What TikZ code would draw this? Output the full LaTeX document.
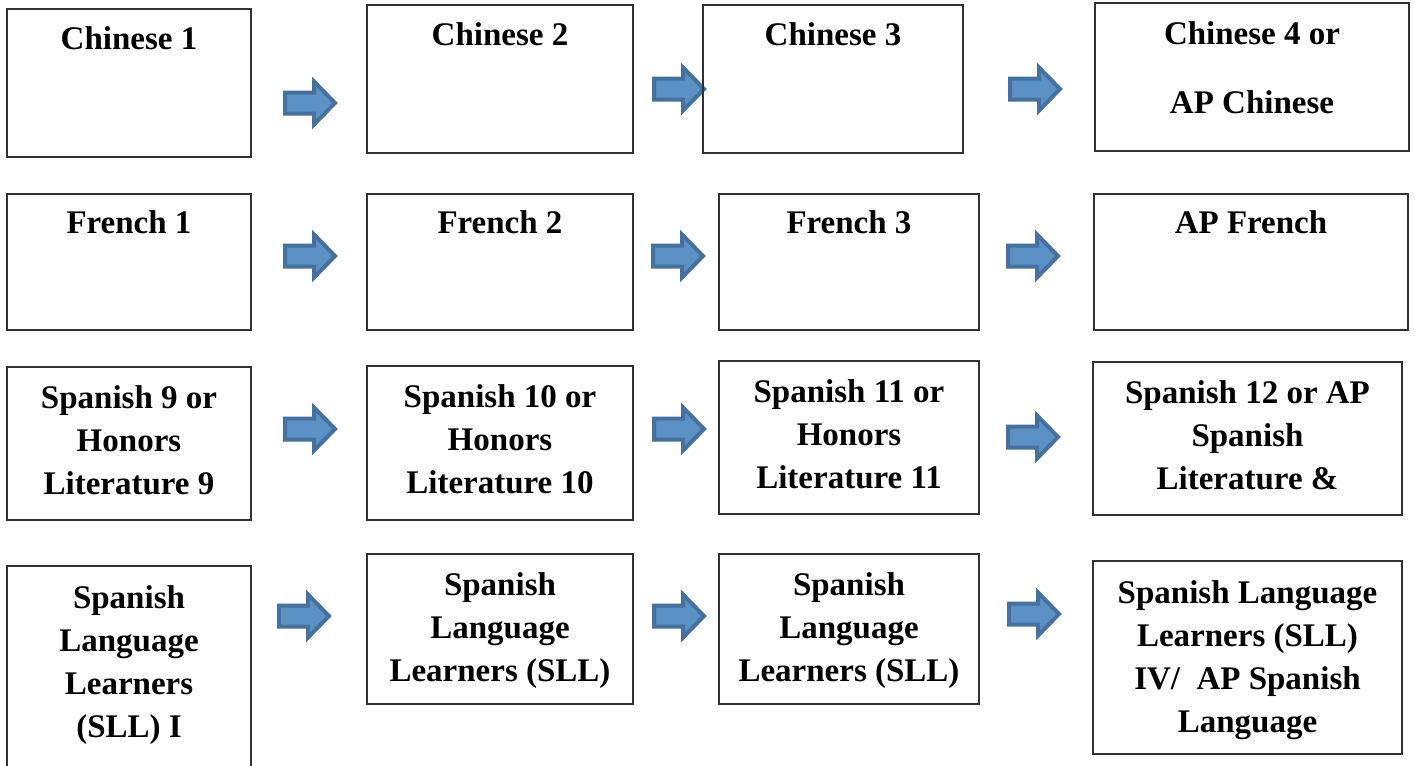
\documentclass[tikz,border=0pt]{standalone}
\usepackage{fontspec}
\setmainfont{Liberation Serif}
\definecolor{arrfill}{RGB}{92,145,198}
\definecolor{arrline}{RGB}{70,112,158}
\definecolor{boxline}{RGB}{50,50,50}
\tikzset{
  coursebox/.style={draw=boxline, line width=1.1pt, rectangle, inner sep=0pt, outer sep=0pt},
  coursetext/.style={font=\bfseries\fontsize{24.75}{32.25}\selectfont, align=center, anchor=north, inner sep=0pt},
  blockarrow/.style={fill=arrfill, draw=arrline, line width=3pt, line join=miter}
}
\newcommand\course[7]{%
  \node[coursebox, minimum width={(#4-#2)*0.75pt}, minimum height={(#5-#3)*0.75pt}] (#1) at ({(#2+#4)/2},{(#3+#5)/2}) {};
  \node[coursetext] (#1-t) at ({(#2+#4)/2},{#6-30.1}) {\strut #7};}
\newcommand\blkarrow[3]{%
  \coordinate (#1) at (#2,#3);
  \filldraw[blockarrow] ([shift={(-53,-10.5)}]#1) -- ([shift={(-24,-10.5)}]#1) -- ([shift={(-24,-21.5)}]#1)
    -- ([shift={(-3,0)}]#1) -- ([shift={(-24,21.5)}]#1) -- ([shift={(-24,10.5)}]#1)
    -- ([shift={(-53,10.5)}]#1) -- cycle;}
\begin{document}
\begin{tikzpicture}[x=0.75pt,y=-0.75pt]
\clip (0,0) rectangle (1415,765);
\fill[white] (0,0) rectangle (1415,765);
% arrows
\blkarrow{a11}{338}{103}
\blkarrow{a12}{707}{89}
\blkarrow{a13}{1063}{89}
\blkarrow{a21}{338}{256}
\blkarrow{a22}{706}{256}
\blkarrow{a23}{1061}{256}
\blkarrow{a31}{338}{429}
\blkarrow{a32}{707}{429}
\blkarrow{a33}{1061}{437}
\blkarrow{a41}{332}{616}
\blkarrow{a42}{707}{616}
\blkarrow{a43}{1062}{614}
% boxes
\course{c1}{7}{9}{251}{157}{49}{Chinese 1}
\course{c2}{367}{5}{633}{153}{45}{Chinese 2}
\course{c3}{703}{5}{963}{153}{45}{Chinese 3}
\course{c4}{1095}{3}{1409}{151}{44}{Chinese 4 or\\[19.5pt] AP Chinese}
\course{f1}{7}{194}{251}{330}{233}{French 1}
\course{f2}{367}{194}{633}{330}{233}{French 2}
\course{f3}{719}{194}{979}{330}{233}{French 3}
\course{f4}{1094}{194}{1408}{330}{233}{AP French}
\course{s1}{7}{367}{251}{520}{408}{Spanish 9 or\\ Honors\\ Literature 9}
\course{s2}{367}{366}{633}{520}{407}{Spanish 10 or\\ Honors\\ Literature 10}
\course{s3}{719}{361}{979}{514}{402}{Spanish 11 or\\ Honors\\ Literature 11}
\course{s4}{1093}{362}{1402}{515}{403}{Spanish 12 or AP\\ Spanish\\ Literature \&}
\course{l1}{7}{566}{251}{790}{608}{Spanish\\ Language\\ Learners\\ (SLL) I}
\course{l2}{367}{554}{633}{704}{595}{Spanish\\ Language\\ Learners (SLL)}
\course{l3}{719}{554}{979}{704}{595}{Spanish\\ Language\\ Learners (SLL)}
\course{l4}{1093}{561}{1402}{754}{603}{Spanish Language\\ Learners (SLL)\\ IV/~ AP Spanish\\ Language}
\end{tikzpicture}
\end{document}
